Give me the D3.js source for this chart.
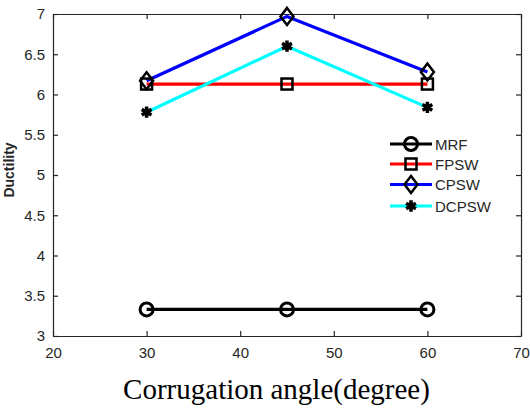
<!DOCTYPE html>
<html>
<head>
<meta charset="utf-8">
<script src="https://cdn.jsdelivr.net/npm/d3@7"></script>
<style>
  body { margin: 0; background: #fff; }
  svg { display: block; }
</style>
</head>
<body>
<div id="chart"></div>
<script>
// Data
const angles = [30, 45, 60];
const mrf = [3.33, 3.33, 3.33];
const fpsw = [6.13, 6.13, 6.13];
const cpsw = [6.17, 6.97, 6.28];
const dcpsw = [5.78, 6.60, 5.84];
const seriesNames = ['MRF', 'FPSW', 'CPSW', 'DCPSW'];
const xTicks = [20, 30, 40, 50, 60, 70];
const yTicks = [3, 3.5, 4, 4.5, 5, 5.5, 6, 6.5, 7];

const width = 530, height = 411;
const margin = { top: 14, right: 9, bottom: 75, left: 53 };

const svg = d3.select('#chart').append('svg')
    .attr('width', width)
    .attr('height', height);

const x = d3.scaleLinear().domain([20, 70]).range([margin.left, width - margin.right]);
const y = d3.scaleLinear().domain([3, 7]).range([height - margin.bottom, margin.top]);

const series = [
    { name: seriesNames[0], values: mrf, color: '#000000', marker: 'circle' },
    { name: seriesNames[1], values: fpsw, color: '#ff0000', marker: 'square' },
    { name: seriesNames[2], values: cpsw, color: '#0000ff', marker: 'diamond' },
    { name: seriesNames[3], values: dcpsw, color: '#00ffff', marker: 'star' }
];

// axes (MATLAB style box with inward ticks)
const tickLen = 5;
const axisColor = '#262626';
const font = 'Arial, "Liberation Sans", sans-serif';

const gx = svg.append('g')
    .attr('transform', `translate(0,${y(3)})`)
    .call(d3.axisBottom(x).tickValues(xTicks).tickSizeInner(-tickLen).tickSizeOuter(0).tickPadding(11));
const gy = svg.append('g')
    .attr('transform', `translate(${x(20)},0)`)
    .call(d3.axisLeft(y).tickValues(yTicks).tickFormat(d3.format('')).tickSizeInner(-tickLen).tickSizeOuter(0).tickPadding(8));
const gxt = svg.append('g')
    .attr('transform', `translate(0,${y(7)})`)
    .call(d3.axisTop(x).tickValues(xTicks).tickSizeInner(-tickLen).tickSizeOuter(0).tickFormat(''));
const gyr = svg.append('g')
    .attr('transform', `translate(${x(70)},0)`)
    .call(d3.axisRight(y).tickValues(yTicks).tickSizeInner(-tickLen).tickSizeOuter(0).tickFormat(''));

[gx, gy, gxt, gyr].forEach(g => {
    g.selectAll('path').attr('stroke', axisColor).attr('stroke-width', 1.2);
    g.selectAll('line').attr('stroke', axisColor).attr('stroke-width', 1.2);
    g.selectAll('text')
        .attr('fill', axisColor)
        .style('font-family', font)
        .style('font-size', '15px');
});

// lines
const line = d3.line()
    .x((d, i) => x(angles[i]))
    .y(d => y(d));

function drawMarker(g, type, cx, cy) {
    if (type === 'circle') {
        g.append('circle').attr('cx', cx).attr('cy', cy).attr('r', 6.5)
            .attr('fill', 'none').attr('stroke', '#000').attr('stroke-width', 3);
    } else if (type === 'square') {
        g.append('rect').attr('x', cx - 5.5).attr('y', cy - 5.5).attr('width', 11).attr('height', 11)
            .attr('fill', 'none').attr('stroke', '#000').attr('stroke-width', 2.5);
    } else if (type === 'diamond') {
        g.append('path')
            .attr('d', `M${cx},${cy - 8.5}L${cx + 6.5},${cy}L${cx},${cy + 8.5}L${cx - 6.5},${cy}Z`)
            .attr('fill', 'none').attr('stroke', '#000').attr('stroke-width', 2.5);
    } else {
        g.append('path')
            .attr('d', d3.symbol().type(d3.symbolAsterisk).size(90)())
            .attr('transform', `translate(${cx},${cy})`)
            .attr('fill', 'none').attr('stroke', '#000').attr('stroke-width', 3.5);
        g.append('circle').attr('cx', cx).attr('cy', cy).attr('r', 3.5).attr('fill', '#000');
    }
}

series.forEach(s => {
    svg.append('path')
        .datum(s.values)
        .attr('d', line)
        .attr('fill', 'none')
        .attr('stroke', s.color)
        .attr('stroke-width', 3.2);
});
series.forEach(s => {
    const g = svg.append('g');
    s.values.forEach((v, i) => drawMarker(g, s.marker, x(angles[i]), y(v)));
});

// legend
const legendRows = [144, 164, 184.5, 206];
const legend = svg.append('g');
series.forEach((s, i) => {
    const ly = legendRows[i];
    legend.append('line')
        .attr('x1', 390).attr('x2', 432).attr('y1', ly).attr('y2', ly)
        .attr('stroke', s.color).attr('stroke-width', 3.2);
    drawMarker(legend, s.marker, 411, ly);
    legend.append('text')
        .attr('x', 435).attr('y', ly + 5.5)
        .attr('fill', axisColor)
        .style('font-family', font)
        .style('font-size', '15px')
        .text(s.name);
});

// axis labels
svg.append('text')
    .attr('transform', 'translate(14,170) rotate(-90)')
    .attr('text-anchor', 'middle')
    .attr('fill', axisColor)
    .style('font-family', font)
    .style('font-size', '14px')
    .style('font-weight', 'bold')
    .text('Ductility');

svg.append('text')
    .attr('x', 276.5)
    .attr('y', 399)
    .attr('text-anchor', 'middle')
    .attr('fill', '#000')
    .style('font-family', '"Times New Roman", "Liberation Serif", serif')
    .style('font-size', '29px')
    .text('Corrugation angle(degree)');
</script>
</body>
</html>
